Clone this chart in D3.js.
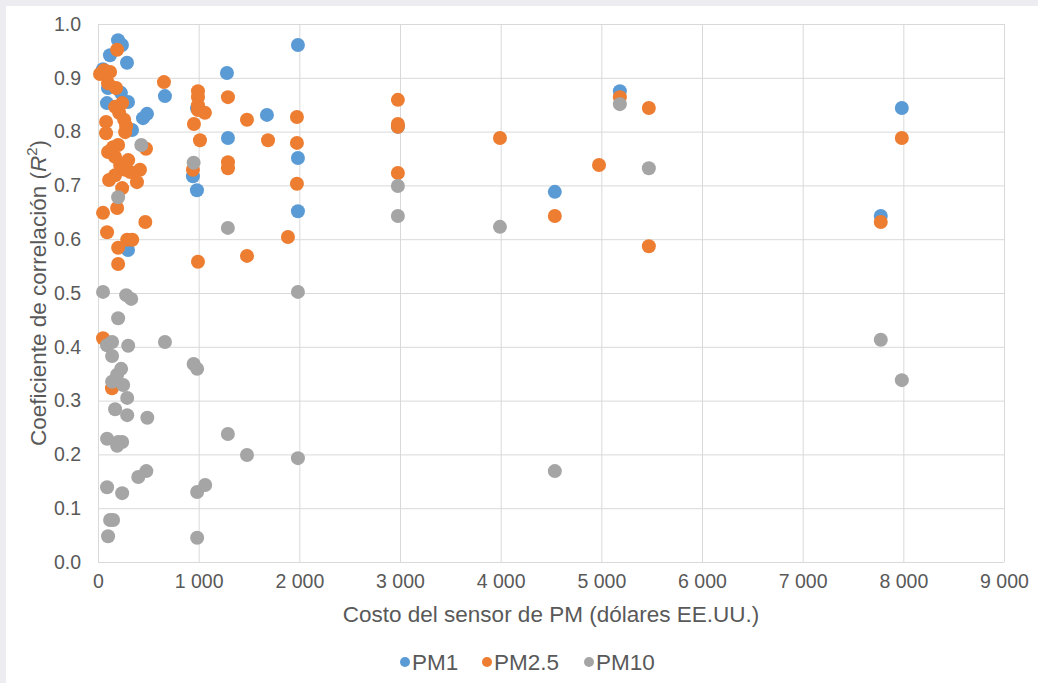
<!DOCTYPE html>
<html>
<head>
<meta charset="utf-8">
<script src="https://cdn.jsdelivr.net/npm/d3@7"></script>
<style>
  html, body { margin: 0; padding: 0; background: #ececf1; }
  svg { display: block; }
  text { font-family: "Liberation Sans", Arial, sans-serif; fill: #595959; }
</style>
</head>
<body>
<svg id="chart" width="1038" height="683"></svg>
<script>
// costo (USD), R2
const pm1 = [
  [199, 0.970], [238, 0.961], [119, 0.942], [288, 0.928], [50, 0.916],
  [99, 0.881], [228, 0.872], [89, 0.853], [298, 0.855], [447, 0.825],
  [487, 0.833], [338, 0.803], [665, 0.866], [298, 0.580], [983, 0.844],
  [943, 0.717], [983, 0.691], [1281, 0.909], [1291, 0.788], [1678, 0.831],
  [1986, 0.961], [1986, 0.751], [1986, 0.652], [2979, 0.809], [4538, 0.688],
  [5184, 0.875], [7985, 0.844], [7776, 0.643]
];

const pm25 = [
  [190, 0.952], [60, 0.914], [120, 0.911], [20, 0.907], [100, 0.890],
  [180, 0.881], [655, 0.892], [993, 0.875], [993, 0.864], [993, 0.849],
  [993, 0.840], [1062, 0.835], [953, 0.814], [1013, 0.784], [1291, 0.864],
  [1480, 0.822], [1689, 0.784], [1976, 0.827], [1976, 0.779], [1976, 0.703],
  [1887, 0.604], [1480, 0.569], [1291, 0.743], [1291, 0.732], [943, 0.729],
  [993, 0.558], [477, 0.768], [417, 0.729], [387, 0.706], [2979, 0.859],
  [2979, 0.814], [2979, 0.809], [2979, 0.723], [3993, 0.788], [4538, 0.643],
  [4977, 0.738], [5184, 0.864], [5472, 0.844], [5472, 0.587], [7776, 0.632],
  [7985, 0.788], [139, 0.323], [50, 0.416],
  [80, 0.818], [80, 0.797], [100, 0.762], [110, 0.710], [170, 0.753],
  [220, 0.738], [170, 0.719], [270, 0.729], [320, 0.725], [240, 0.695],
  [300, 0.747], [200, 0.775], [260, 0.822], [280, 0.810], [210, 0.835],
  [170, 0.846], [240, 0.853], [270, 0.799], [150, 0.771], [190, 0.658],
  [50, 0.649], [90, 0.613], [290, 0.599], [340, 0.599], [200, 0.584],
  [200, 0.554], [470, 0.632]
];

const pm10 = [
  [430, 0.775], [200, 0.678], [950, 0.742], [1290, 0.621], [50, 0.502],
  [280, 0.496], [330, 0.489], [200, 0.453], [665, 0.409], [90, 0.403],
  [140, 0.409], [300, 0.402], [140, 0.383], [950, 0.368], [985, 0.359],
  [230, 0.359], [190, 0.348], [140, 0.335], [250, 0.329], [290, 0.305],
  [170, 0.284], [290, 0.273], [490, 0.268], [90, 0.229], [200, 0.223],
  [240, 0.223], [190, 0.216], [480, 0.169], [400, 0.158], [90, 0.139],
  [240, 0.128], [985, 0.130], [1065, 0.143], [120, 0.078], [150, 0.078],
  [100, 0.048], [985, 0.045], [1290, 0.238], [1480, 0.199], [1986, 0.193],
  [1986, 0.502], [2979, 0.699], [2979, 0.643], [3993, 0.623], [4538, 0.169],
  [5184, 0.851], [5472, 0.732], [7776, 0.413], [7985, 0.338]
];

const seriesNames = ['PM1', 'PM2.5', 'PM10'];
const seriesColors = ['#5b9bd5', '#ed7d31', '#a5a5a5'];
const xTicks = d3.range(0, 9001, 1000);
const yTicks = d3.range(0, 11).map(i => i / 10);

const svg = d3.select('#chart');
svg.append('rect').attr('x', 6).attr('y', 6).attr('width', 1032).attr('height', 677).attr('fill', '#fff');

const x = d3.scaleLinear().domain([0, 9000]).range([98, 1004]);
const y = d3.scaleLinear().domain([0, 1]).range([562, 24]);

const fmtX = d => d3.format(',')(d).replace(/,/g, ' ');
const fmtY = d3.format('.1f');

// grid + ticks
svg.append('g')
  .attr('transform', 'translate(0,562)')
  .call(d3.axisBottom(x).tickValues(xTicks).tickSize(-538).tickFormat(fmtX).tickPadding(12))
  .call(g => g.select('.domain').remove())
  .call(g => g.selectAll('line').attr('stroke', '#d9d9d9'))
  .call(g => g.selectAll('text').attr('font-size', 19.5).attr('fill', '#595959'));

svg.append('g')
  .attr('transform', 'translate(98,0)')
  .call(d3.axisLeft(y).tickValues(yTicks).tickSize(-906).tickFormat(fmtY).tickPadding(17))
  .call(g => g.select('.domain').remove())
  .call(g => g.selectAll('line').attr('stroke', '#d9d9d9'))
  .call(g => g.selectAll('text').attr('font-size', 19.5).attr('fill', '#595959'));

// points
[pm1, pm25, pm10].forEach((data, i) => {
  svg.append('g').selectAll('circle')
    .data(data)
    .join('circle')
    .attr('cx', d => x(d[0]))
    .attr('cy', d => y(d[1]))
    .attr('r', 7)
    .attr('fill', seriesColors[i]);
});

// titles
svg.append('text')
  .attr('x', 551).attr('y', 622)
  .attr('text-anchor', 'middle')
  .attr('font-size', 22.5)
  .text('Costo del sensor de PM (dólares EE.UU.)');

const yt = svg.append('text')
  .attr('transform', 'translate(46,293) rotate(-90)')
  .attr('text-anchor', 'middle')
  .attr('font-size', 22.5);
yt.append('tspan').text('Coeficiente de correlación (');
yt.append('tspan').attr('font-style', 'italic').text('R');
yt.append('tspan').attr('font-size', 15).attr('dy', -9).text('2');
yt.append('tspan').attr('dy', 9).text(')');

// legend
const legendX = [405, 487, 589];
const lg = svg.append('g');
seriesNames.forEach((name, i) => {
  lg.append('circle').attr('cx', legendX[i]).attr('cy', 662).attr('r', 5).attr('fill', seriesColors[i]);
  lg.append('text').attr('x', legendX[i] + 7).attr('y', 670).attr('font-size', 22.5).text(name);
});
</script>
</body>
</html>
